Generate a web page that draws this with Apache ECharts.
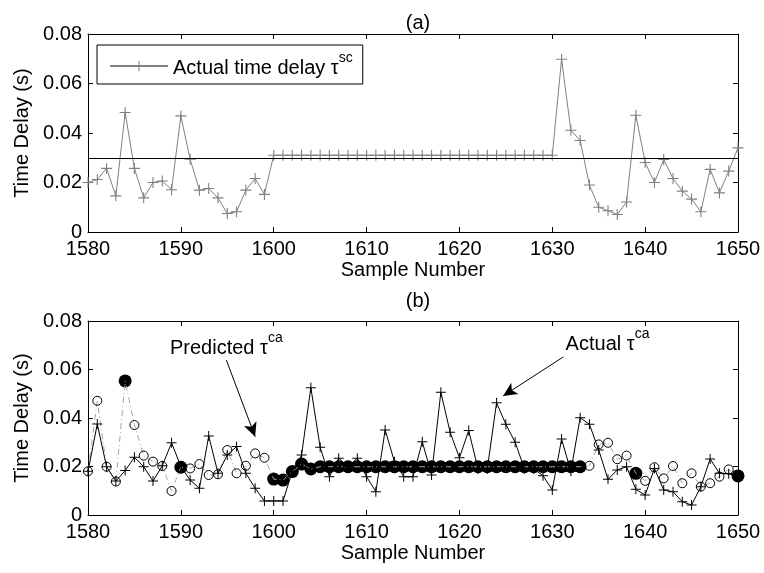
<!DOCTYPE html>
<html><head><meta charset="utf-8">
<script src="https://cdn.jsdelivr.net/npm/echarts@6/dist/echarts.min.js"></script>
<style>html,body{margin:0;padding:0;background:#fff}#c{width:764px;height:573px}</style>
</head><body><div id="c"></div>
<script>
// ---------- data ----------
const sampleStart = 1580;
const xTickLabels = [1580, 1590, 1600, 1610, 1620, 1630, 1640, 1650];
const yTickLabels = [0, 0.02, 0.04, 0.06, 0.08];

// (a) actual time delay tau^sc, samples 1580..1650
const delaySC = [
  0.020, 0.0212, 0.0257, 0.0146, 0.0483, 0.0257, 0.0138, 0.0200, 0.0206, 0.0171,
  0.0469, 0.0294, 0.0169, 0.0176, 0.0138, 0.0075, 0.0082, 0.0169, 0.0216, 0.0152,
  0.031, 0.031, 0.031, 0.031, 0.031, 0.031, 0.031, 0.031, 0.031, 0.031,
  0.031, 0.031, 0.031, 0.031, 0.031, 0.031, 0.031, 0.031, 0.031, 0.031,
  0.031, 0.031, 0.031, 0.031, 0.031, 0.031, 0.031, 0.031, 0.031, 0.031,
  0.031,
  0.0698, 0.0411, 0.0370, 0.0190, 0.0100, 0.0086, 0.0071, 0.0121, 0.0472,
  0.0281, 0.0200, 0.0293, 0.0216, 0.0165, 0.0133, 0.0082, 0.0253, 0.0158, 0.0246,
  0.0340
];
const thresholdSC = 0.03;

// (b) actual tau^ca, samples 1580..1650
const actualCA = [
  0.018, 0.0375, 0.0199, 0.0140, 0.0183, 0.0238, 0.0199, 0.0140, 0.0203, 0.0298,
  0.020, 0.0144, 0.0110, 0.0326, 0.0172, 0.0247, 0.0282, 0.0172, 0.0110, 0.0058,
  0.0058, 0.0058, 0.018, 0.0247, 0.0525, 0.0279, 0.0158, 0.0234, 0.020, 0.0234,
  0.0158, 0.0096, 0.0351, 0.022, 0.0158, 0.0158, 0.0302, 0.0165, 0.0506, 0.0341,
  0.0236, 0.0348, 0.019, 0.019, 0.0463, 0.0374, 0.0300, 0.019, 0.019, 0.0162,
  0.0103, 0.0313, 0.018, 0.0401, 0.0374, 0.0268, 0.0147, 0.0186, 0.0199, 0.0106,
  0.0082, 0.0192, 0.0103, 0.0096, 0.0055, 0.0041, 0.0117, 0.0231, 0.0172, 0.017,
  0.016
];
// (b) predicted tau^ca, samples 1580..1650
const predictedCA = [
  0.018, 0.0471, 0.0199, 0.0138, 0.0553, 0.0371, 0.0245, 0.0220, 0.0202, 0.0099,
  0.0197, 0.0192, 0.0210, 0.0165, 0.0168, 0.0268, 0.0172, 0.0203, 0.0254, 0.0236,
  0.0148, 0.0144, 0.0179, 0.0210, 0.019, 0.0199, 0.0199, 0.0199, 0.0199, 0.0199,
  0.0199, 0.0199, 0.0199, 0.0199, 0.0199, 0.0199, 0.0199, 0.0199, 0.0199, 0.0199,
  0.0199, 0.0199, 0.0199, 0.0199, 0.0199, 0.0199, 0.0199, 0.0199, 0.0199, 0.0199,
  0.0199, 0.0199, 0.0199, 0.0199, 0.0203, 0.0291, 0.0298, 0.0230, 0.0245, 0.0172,
  0.0141, 0.0197, 0.0151, 0.0202, 0.0131, 0.0172, 0.0117, 0.0131, 0.0158, 0.0188,
  0.0161
];
// samples where the predicted marker is drawn filled
const filledSamples = [1584, 1590,
  1600, 1601, 1602, 1603, 1604, 1605, 1606, 1607, 1608, 1609, 1610, 1611, 1612,
  1613, 1614, 1615, 1616, 1617, 1618, 1619, 1620, 1621, 1622, 1623, 1624, 1625,
  1626, 1627, 1628, 1629, 1630, 1631, 1632, 1633,
  1639, 1650];

// ---------- chart ----------
const FONT = 'Liberation Sans, Arial, Helvetica, sans-serif';
const FS = 20;
const PLUS = 'path://M0,4.5L10,4.5L10,5.5L0,5.5Z M4.5,0L5.5,0L5.5,10L4.5,10Z';
const toPairs = arr => arr.map((v, i) => [sampleStart + i, v]);
const filledPairs = filledSamples.map(s => [s, predictedCA[s - sampleStart]]);
const xMin = xTickLabels[0], xMax = xTickLabels[xTickLabels.length - 1];
const yMin = yTickLabels[0], yMax = yTickLabels[yTickLabels.length - 1];

const txt = {color: '#000', fontSize: FS, fontFamily: FONT};
const supRich = {
  a: {color: '#000', fontSize: FS, fontFamily: FONT, lineHeight: 24, verticalAlign: 'bottom'},
  s: {color: '#000', fontSize: 14, fontFamily: FONT, lineHeight: 14, verticalAlign: 'bottom', padding: [0, 0, 13, 0]}
};

function xAx(grid, pos) {
  const main = pos === 'bottom';
  return {
    gridIndex: grid, type: 'value', position: pos, min: xMin, max: xMax, interval: 10,
    axisLine: {onZero: false, lineStyle: {color: '#000', width: 1}},
    axisTick: {inside: true, length: 5, lineStyle: {color: '#000'}},
    axisLabel: {show: main, margin: 7, formatter: v => String(v), ...txt},
    splitLine: {show: false},
    name: main ? 'Sample Number' : '', nameLocation: 'middle', nameGap: 28, nameTextStyle: txt
  };
}
function yAx(grid, pos) {
  const main = pos === 'left';
  return {
    gridIndex: grid, type: 'value', position: pos, min: yMin, max: yMax, interval: 0.02,
    axisLine: {onZero: false, lineStyle: {color: '#000', width: 1}},
    axisTick: {inside: true, length: 5, lineStyle: {color: '#000'}},
    axisLabel: {show: main, margin: 6, ...txt},
    splitLine: {show: false},
    name: main ? 'Time Delay (s)' : '', nameLocation: 'middle', nameGap: 52, nameTextStyle: txt
  };
}

const chart = echarts.init(document.getElementById('c'), null, {renderer: 'canvas'});
const topName = 'Actual time delay';
chart.setOption({
  animation: false,
  backgroundColor: '#fff',
  title: [
    {text: '(a)', left: 413, top: 8, textAlign: 'center', textStyle: {...txt, fontWeight: 'normal'}},
    {text: '(b)', left: 413, top: 286, textAlign: 'center', textStyle: {...txt, fontWeight: 'normal'}}
  ],
  grid: [
    {left: 88, top: 34, width: 650, height: 198},
    {left: 88, top: 321, width: 650, height: 194}
  ],
  xAxis: [xAx(0, 'bottom'), xAx(0, 'top'), xAx(1, 'bottom'), xAx(1, 'top')],
  yAxis: [yAx(0, 'left'), yAx(0, 'right'), yAx(1, 'left'), yAx(1, 'right')],
  legend: {
    data: [topName], left: 97, top: 45, orient: 'horizontal',
    backgroundColor: '#fff', borderColor: '#000', borderWidth: 1, borderRadius: 0,
    padding: [6, 10, 6, 12], itemWidth: 58, itemHeight: 13, itemGap: 0,
    textStyle: {...txt, rich: supRich},
    formatter: () => '{a|Actual time delay τ}{s|sc}'
  },
  series: [
    {
      name: topName, type: 'line', xAxisIndex: 0, yAxisIndex: 0,
      data: toPairs(delaySC), symbol: PLUS, symbolSize: 11, showAllSymbol: true,
      itemStyle: {color: '#808080'}, lineStyle: {color: '#808080', width: 1},
      markLine: {
        silent: true, symbol: 'none', label: {show: false},
        lineStyle: {color: '#000', width: 1, type: 'solid'},
        data: [{yAxis: thresholdSC}]
      }
    },
    {
      name: 'Predicted', type: 'line', xAxisIndex: 2, yAxisIndex: 2,
      data: toPairs(predictedCA), symbol: 'circle', symbolSize: 9, showAllSymbol: true,
      itemStyle: {color: 'rgba(0,0,0,0)', borderColor: '#000', borderWidth: 1},
      lineStyle: {color: '#a8a8a8', width: 1, type: [6, 3, 1, 3]}
    },
    {
      name: 'Actual', type: 'line', xAxisIndex: 2, yAxisIndex: 2,
      data: toPairs(actualCA), symbol: PLUS, symbolSize: 10, showAllSymbol: true,
      itemStyle: {color: '#000'}, lineStyle: {color: '#000', width: 1},
      markLine: {
        silent: true, symbol: ['none', 'arrow'], symbolSize: [10, 14], label: {show: false},
        lineStyle: {color: '#000', width: 1, type: 'solid'},
        data: [
          [{coord: [1594.9, 0.0639]}, {coord: [1598.0, 0.0323]}],
          [{coord: [1631.2, 0.0652]}, {coord: [1624.7, 0.0491]}]
        ]
      },
      markPoint: {
        silent: true, symbol: 'rect', symbolSize: 1, itemStyle: {color: 'rgba(0,0,0,0)'},
        label: {show: true, position: 'inside', color: '#000', textBorderWidth: 0, rich: supRich},
        data: [
          {coord: [1594.9, 0.0695], label: {formatter: '{a|Predicted τ}{s|ca}'}},
          {coord: [1635.95, 0.0713], label: {formatter: '{a|Actual τ}{s|ca}'}}
        ]
      }
    },
    {
      name: 'Filled', type: 'scatter', xAxisIndex: 2, yAxisIndex: 2,
      data: filledPairs, symbol: 'circle', symbolSize: 13,
      itemStyle: {color: '#000', opacity: 1}
    }
  ]
});
</script></body></html>
